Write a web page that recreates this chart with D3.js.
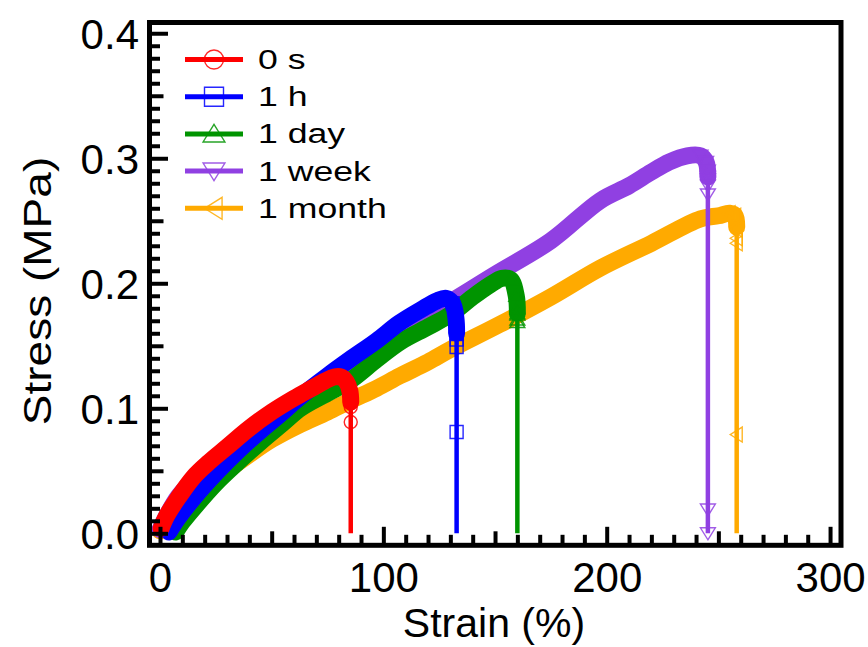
<!DOCTYPE html>
<html><head><meta charset="utf-8">
<script src="https://cdn.jsdelivr.net/npm/d3@7"></script>
<style>
body{margin:0;background:#fff}
svg{display:block}
text{font-family:"Liberation Sans",Arial,Helvetica,sans-serif;fill:#000}
</style>
</head><body>
<svg id="chart" width="868" height="647"></svg>
<script>
// ---- data ----
const seriesNames  = ["0 s", "1 h", "1 day", "1 week", "1 month"];
const seriesColors = ["#ff0000", "#0000ff", "#009400", "#9040e2", "#ffaa00"];
const seriesMarkers = ["circle", "square", "triUp", "triDown", "triLeft"];

const strain0s = [0.5, 3, 8, 15, 22, 30, 40, 50, 60, 68, 74, 78, 81, 83.5, 85, 85.4];
const stress0s = [0.004, 0.014, 0.028, 0.045, 0.057, 0.069, 0.084, 0.097, 0.108, 0.116, 0.122, 0.125, 0.125, 0.121, 0.114, 0.105];
const drop0s   = [0.110, 0.106, 0.101, 0.089];

const strain1h = [4, 8, 15, 25, 35, 45, 55, 62, 75, 85, 97, 107, 117, 124, 128, 131, 132.5, 132.8];
const stress1h = [0.001, 0.012, 0.028, 0.048, 0.066, 0.082, 0.097, 0.108, 0.126, 0.139, 0.154, 0.168, 0.179, 0.186, 0.188, 0.184, 0.172, 0.160];
const drop1h   = [0.165, 0.160, 0.155, 0.149, 0.081];

const strain1d = [7, 10, 16, 25, 35, 45, 55, 63, 75, 85, 97, 107.5, 120, 130, 140, 148, 153, 157, 159.5, 160];
const stress1d = [0.001, 0.009, 0.022, 0.040, 0.057, 0.073, 0.088, 0.100, 0.112, 0.122, 0.139, 0.153, 0.165, 0.175, 0.189, 0.199, 0.204, 0.203, 0.190, 0.176];
const drop1d   = [0.180, 0.175, 0.171, 0.169];

const strain1w = [0, 3, 8, 15, 25, 40, 60, 85, 110, 130, 150, 175, 197, 210, 220, 228, 236, 242, 244.5, 245.3];
const stress1w = [0.003, 0.014, 0.029, 0.043, 0.060, 0.080, 0.105, 0.136, 0.164, 0.185, 0.207, 0.234, 0.266, 0.278, 0.289, 0.297, 0.302, 0.302, 0.297, 0.285];
const drop1w   = [0.290, 0.283, 0.278, 0.271, 0.019, 0.0];

const strain1m = [0, 4, 10, 20, 30, 40, 50, 62.7, 75, 85, 97, 107.5, 120, 130, 152, 175, 197, 220, 242, 250, 255, 257.5, 258.2];
const stress1m = [0.002, 0.010, 0.021, 0.036, 0.050, 0.063, 0.075, 0.087, 0.097, 0.106, 0.116, 0.126, 0.137, 0.147, 0.167, 0.189, 0.212, 0.232, 0.2515, 0.254, 0.256, 0.254, 0.245];
const drop1m   = [0.243, 0.236, 0.232, 0.079];

const xTickValues = d3.range(0, 301, 10);
const xTickLabels = [0, 100, 200, 300];
const yTickValues = d3.range(0, 41, 1).map(d => d / 100);
const yTickLabels = ["0.0", "0.1", "0.2", "0.3", "0.4"];
const xTitle = "Strain (%)";
const yTitle = "Stress (MPa)";

const allStrain = [strain0s, strain1h, strain1d, strain1w, strain1m];
const allStress = [stress0s, stress1h, stress1d, stress1w, stress1m];
const allDrop   = [drop0s, drop1h, drop1d, drop1w, drop1m];

// ---- layout ----
const svg = d3.select("#chart");
const L = 149.5, R = 841, T = 22.5, B = 545.3;
const x = d3.scaleLinear().domain([-4.7, 304.9]).range([L, R]);
const y = d3.scaleLinear().domain([-0.0096, 0.4086]).range([B, T]);

function markerPath(kind, s) {
  const h = s / 2;
  if (kind === "circle") return d3.symbol(d3.symbolCircle, Math.PI * h * h)();
  if (kind === "square") return `M${-h},${-h}H${h}V${h}H${-h}Z`;
  if (kind === "triUp") return `M0,${-h}L${h*1.15},${h*0.85}L${-h*1.15},${h*0.85}Z`;
  if (kind === "triDown") return `M0,${h}L${h*1.15},${-h*0.85}L${-h*1.15},${-h*0.85}Z`;
  return `M${-h},0L${h*0.85},${-h*1.15}L${h*0.85},${h*1.15}Z`;
}

const line = d3.line().x(d => x(d[0])).y(d => y(d[1])).curve(d3.curveCatmullRom.alpha(0.5));

const plot = svg.append("g");
// draw back to front: 1 month, 1 week, 1 day, 1 h, 0 s
[4, 3, 2, 1, 0].forEach(i => {
  const pts = allStrain[i].map((s, k) => [s, allStress[i][k]]);
  const g = plot.append("g");
  const last = pts[pts.length - 1];
  // vertical drop after fracture
  g.append("line")
    .attr("x1", x(last[0])).attr("x2", x(last[0]))
    .attr("y1", y(last[1])).attr("y2", y(0))
    .attr("stroke", seriesColors[i]).attr("stroke-width", 4.5);
  // dense data band
  g.append("path").datum(pts).attr("d", line)
    .attr("fill", "none").attr("stroke", seriesColors[i])
    .attr("stroke-width", 17).attr("stroke-linecap", "round").attr("stroke-linejoin", "round");
  // hollow markers on the turn and the drop
  const mk = pts.slice(-3).concat(allDrop[i].map(v => [last[0], v]));
  g.selectAll("path.mk").data(mk).join("path").attr("class", "mk")
    .attr("d", markerPath(seriesMarkers[i], 13))
    .attr("transform", d => `translate(${x(d[0])},${y(d[1])})`)
    .attr("fill", "none").attr("stroke", seriesColors[i]).attr("stroke-width", 1.4)
    .attr("stroke-opacity", 0.85);
});

// ---- axes ----
const tickLen = v => (v % 100 === 0 ? 18.5 : v % 50 === 0 ? 14 : 10.5);
const xAxis = d3.axisBottom(x).tickValues(xTickValues)
  .tickFormat(d => xTickLabels.includes(d) ? String(d) : "").tickSizeOuter(0);
const gx = svg.append("g").attr("transform", `translate(0,${B})`).call(xAxis);
gx.select(".domain").remove();
gx.selectAll(".tick line").attr("y2", d => -tickLen(d)).attr("stroke", "#000").attr("stroke-width", 4);
gx.selectAll(".tick text").attr("y", 46.7).attr("dy", 0).attr("font-size", 42)
  .style("font-family", '"Liberation Sans",Arial,sans-serif').attr("fill", "#000");

const yAxis = d3.axisLeft(y).tickValues(yTickValues)
  .tickFormat(d => { const k = Math.round(d * 100); return k % 10 === 0 ? yTickLabels[k / 10] : ""; })
  .tickSizeOuter(0);
const gy = svg.append("g").attr("transform", `translate(${L},0)`).call(yAxis);
gy.select(".domain").remove();
gy.selectAll(".tick line").attr("x2", d => tickLen(Math.round(d * 1000))).attr("stroke", "#000").attr("stroke-width", 4);
gy.selectAll(".tick text").attr("x", -10.5).attr("dy", 15).attr("font-size", 42)
  .style("font-family", '"Liberation Sans",Arial,sans-serif').attr("fill", "#000");

// frame
svg.append("rect").attr("x", L).attr("y", T).attr("width", R - L).attr("height", B - T)
  .attr("fill", "none").attr("stroke", "#000").attr("stroke-width", 5);

// titles
svg.append("text").attr("x", 494).attr("y", 637).attr("text-anchor", "middle")
  .attr("font-size", 41).text(xTitle);
svg.append("text").attr("transform", "translate(51,291) rotate(-90) scale(1.18,1)")
  .attr("text-anchor", "middle").attr("font-size", 39).text(yTitle);

// ---- legend ----
const leg = svg.append("g");
seriesNames.forEach((name, i) => {
  const cy = 59.5 + i * 37.2;
  leg.append("line").attr("x1", 185).attr("x2", 243).attr("y1", cy).attr("y2", cy)
    .attr("stroke", seriesColors[i]).attr("stroke-width", 5);
  leg.append("path").attr("d", markerPath(seriesMarkers[i], 19))
    .attr("transform", `translate(214,${cy})`)
    .attr("fill", "none").attr("stroke", seriesColors[i]).attr("stroke-width", 1.4)
    .attr("stroke-opacity", 0.85);
  leg.append("text").attr("transform", `translate(258,${cy + 9.5}) scale(1.32,1)`)
    .attr("font-size", 27).text(name);
});
</script>
</body></html>
